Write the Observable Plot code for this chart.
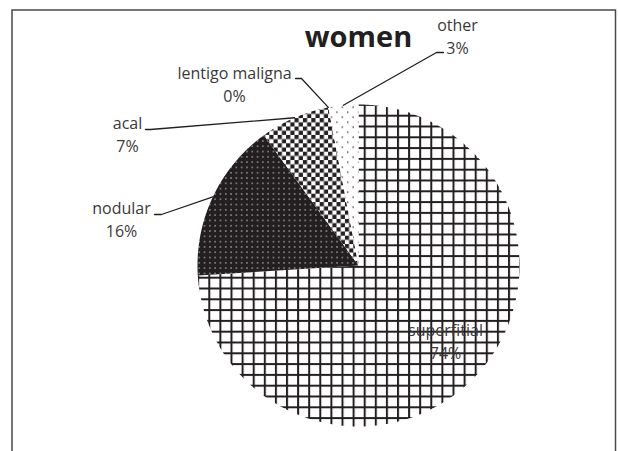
<!DOCTYPE html>
<html>
<head>
<meta charset="utf-8">
<script src="https://cdn.jsdelivr.net/npm/d3@7"></script>
<script src="https://cdn.jsdelivr.net/npm/@observablehq/plot@0.6"></script>
<style>
  html, body { margin: 0; padding: 0; background: #fff; }
</style>
</head>
<body>
<div id="chart"></div>
<script>
// ---- data ----
const title = "women";
const categories = ["superfitial", "nodular", "acal", "lentigo maligna", "other"];
const values = [74, 16, 7, 0, 3];
const pctLabels = ["74%", "16%", "7%", "0%", "3%"];

// ---- layout (pixels) ----
const W = 618, H = 451;
const cx = 358, cy = 265, R = 161;
const labelPos = [[445, 330], [121, 208], [127, 123], [234, 73], [457, 25]];
const lineGap = 23;
const leaderHooks = [null, [[154, 214], [161, 214]], [[145, 129], [150, 129]], [[295, 78], [301, 78]], [[443, 52], [436, 52]]];
const patternIds = ["p-grid", "p-dark", "p-check", "p-none", "p-dots"];

const arcs = d3.pie().sort(null).startAngle(0).endAngle(2 * Math.PI)(values);
const pt = (a, r) => ({x: cx + r * Math.sin(a), y: cy - r * Math.cos(a)});

function wedge(arc) {
  const pts = [pt(0, 0)];
  const n = Math.max(2, Math.ceil((arc.endAngle - arc.startAngle) / (Math.PI / 360)));
  for (let k = 0; k <= n; k++) {
    pts.push(pt(arc.startAngle + (arc.endAngle - arc.startAngle) * k / n, R));
  }
  pts.push(pt(0, 0));
  return pts;
}

const defsMark = () => {
  const ns = "http://www.w3.org/2000/svg";
  const defs = d3.create("svg:defs");
  // grid
  const g = defs.append("pattern").attr("id", "p-grid").attr("patternUnits", "userSpaceOnUse")
    .attr("width", 11.1).attr("height", 10.8).attr("x", 8.0).attr("y", 6.2);
  g.append("rect").attr("width", 11.1).attr("height", 10.8).attr("fill", "#fff");
  g.append("rect").attr("x", 0).attr("y", 0).attr("width", 2).attr("height", 10.8).attr("fill", "#231f20");
  g.append("rect").attr("x", 0).attr("y", 0).attr("width", 11.1).attr("height", 2).attr("fill", "#231f20");
  // dark with light dots
  const d = defs.append("pattern").attr("id", "p-dark").attr("patternUnits", "userSpaceOnUse")
    .attr("width", 5.3).attr("height", 5.3);
  d.append("rect").attr("width", 5.3).attr("height", 5.3).attr("fill", "#231f20");
  d.append("rect").attr("x", 2).attr("y", 2).attr("width", 1.3).attr("height", 1.3).attr("fill", "#bdbdbd");
  // checkerboard
  const c = defs.append("pattern").attr("id", "p-check").attr("patternUnits", "userSpaceOnUse")
    .attr("width", 8.4).attr("height", 8.4);
  c.append("rect").attr("width", 8.4).attr("height", 8.4).attr("fill", "#fff");
  c.append("rect").attr("x", 0).attr("y", 0).attr("width", 4.2).attr("height", 4.2).attr("fill", "#231f20");
  c.append("rect").attr("x", 4.2).attr("y", 4.2).attr("width", 4.2).attr("height", 4.2).attr("fill", "#231f20");
  // none (lentigo)
  const nn = defs.append("pattern").attr("id", "p-none").attr("patternUnits", "userSpaceOnUse")
    .attr("width", 4).attr("height", 4);
  nn.append("rect").attr("width", 4).attr("height", 4).attr("fill", "#fff");
  nn.append("rect").attr("width", 1).attr("height", 1).attr("fill", "#231f20");
  // sparse dots
  const s = defs.append("pattern").attr("id", "p-dots").attr("patternUnits", "userSpaceOnUse")
    .attr("width", 10.8).attr("height", 10);
  s.append("rect").attr("width", 10.8).attr("height", 10).attr("fill", "#fff");
  s.append("rect").attr("x", 1).attr("y", 1).attr("width", 1.3).attr("height", 1.3).attr("fill", "#231f20");
  s.append("rect").attr("x", 6.4).attr("y", 6).attr("width", 1.3).attr("height", 1.3).attr("fill", "#231f20");
  return defs.node();
};

const sliceMarks = arcs.map((arc, i) =>
  Plot.line(wedge(arc), {x: "x", y: "y", fill: `url(#${patternIds[i]})`, stroke: "none"})
);

const leaderMarks = arcs.map((arc, i) => {
  if (!leaderHooks[i]) return null;
  const mid = (arc.startAngle + arc.endAngle) / 2;
  const pts = leaderHooks[i].map(([x, y]) => ({x, y})).concat([pt(mid, R)]);
  return Plot.line(pts, {x: "x", y: "y", stroke: "#231f20", strokeWidth: 1.3});
}).filter(Boolean);

const labels = categories.map((name, i) => ({
  name, pct: pctLabels[i], x: labelPos[i][0], y: labelPos[i][1]
}));

const chart = Plot.plot({
  width: W,
  height: H,
  margin: 0,
  style: {fontFamily: "'Open Sans', sans-serif", background: "#fff"},
  x: {domain: [0, W], range: [0, W], axis: null},
  y: {domain: [0, H], range: [0, H], axis: null},
  marks: [
    defsMark,
    Plot.frame({stroke: "#4a4a4a", strokeWidth: 1.5, insetLeft: 11.5, insetTop: 9.5, insetRight: 3, insetBottom: -20}),
    ...sliceMarks,
    ...leaderMarks,
    Plot.text(labels, {x: "x", y: "y", text: "name", fontSize: 16, fill: "#3a3a3a", textAnchor: "middle", lineAnchor: "middle"}),
    Plot.text(labels, {x: "x", y: (d) => d.y + lineGap, text: "pct", fontSize: 16, fill: "#3a3a3a", textAnchor: "middle", lineAnchor: "middle"}),
    Plot.text([title], {x: () => 358, y: () => 37, text: (d) => d, fontSize: 29, fontWeight: "bold", fill: "#231f20", textAnchor: "middle", lineAnchor: "middle"})
  ]
});
document.getElementById("chart").appendChild(chart);
</script>
</body>
</html>
